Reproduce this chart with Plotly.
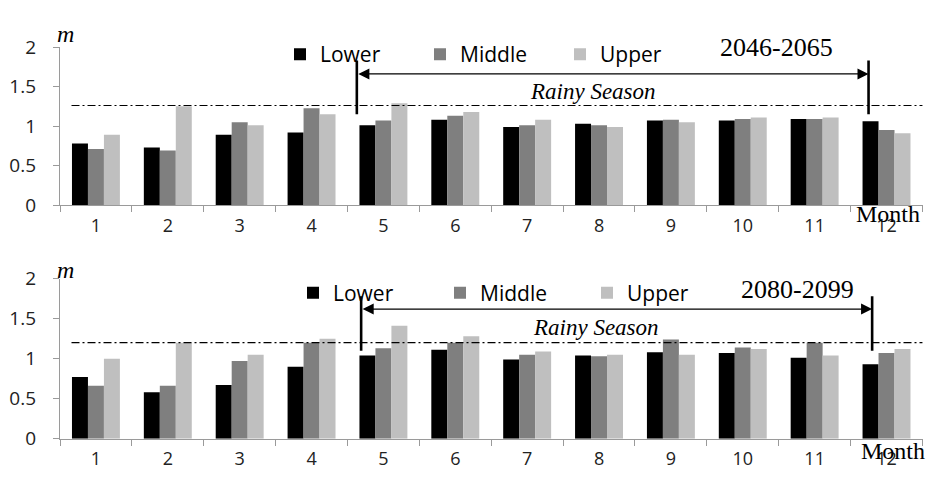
import plotly.graph_objects as go

months = [str(m) for m in range(1, 13)]
series_names = ["Lower", "Middle", "Upper"]
colors = ["#000000", "#7f7f7f", "#bfbfbf"]

# 2046-2065
lower_1 = [0.78, 0.73, 0.89, 0.92, 1.01, 1.08, 0.99, 1.03, 1.07, 1.07, 1.09, 1.06]
middle_1 = [0.71, 0.69, 1.05, 1.225, 1.07, 1.13, 1.01, 1.01, 1.08, 1.09, 1.09, 0.95]
upper_1 = [0.89, 1.25, 1.01, 1.15, 1.29, 1.18, 1.08, 0.99, 1.05, 1.11, 1.11, 0.91]

# 2080-2099
lower_2 = [0.77, 0.58, 0.67, 0.90, 1.04, 1.11, 0.99, 1.04, 1.08, 1.07, 1.01, 0.93]
middle_2 = [0.66, 0.66, 0.97, 1.20, 1.13, 1.20, 1.05, 1.03, 1.24, 1.14, 1.20, 1.07]
upper_2 = [1.00, 1.20, 1.05, 1.25, 1.41, 1.28, 1.09, 1.05, 1.05, 1.12, 1.04, 1.12]

period_labels = ["2046-2065", "2080-2099"]
threshold = [1.26, 1.20]
rainy_label = "Rainy Season"

W, H = 930, 486
def px_x(p):
    return p / W
def px_y(p):
    return 1 - p / H

fig = go.Figure()

panels = [
    dict(data=[lower_1, middle_1, upper_1], xa="x", ya="y", legend="legend"),
    dict(data=[lower_2, middle_2, upper_2], xa="x2", ya="y2", legend="legend2"),
]
for p in panels:
    for name, vals, col in zip(series_names, p["data"], colors):
        fig.add_trace(go.Bar(x=months, y=vals, name=name, marker=dict(color=col, line=dict(width=0)),
                             xaxis=p["xa"], yaxis=p["ya"], legend=p["legend"]))

axcolor = "#9a9a9a"
xdom = [px_x(60), px_x(923)]
xcommon = dict(domain=xdom, showline=True, linecolor=axcolor, linewidth=1.3, ticks="outside",
               tickson="boundaries", ticklen=6, tickcolor=axcolor, tickwidth=1.3,
               tickfont=dict(family="Open Sans", size=18, color="#222222"), ticklabelstandoff=4,
               showgrid=False, zeroline=False, type="category", fixedrange=True)
ycommon = dict(range=[0, 2], tickvals=[0, 0.5, 1, 1.5, 2], ticktext=["0", "0.5", "1", "1.5", "2"],
               showline=True, linecolor=axcolor, linewidth=1.3, ticks="outside", ticklen=6,
               tickcolor=axcolor, tickwidth=1.3, tickfont=dict(family="Open Sans", size=19, color="#222222"),
               ticklabelstandoff=13, showgrid=False, zeroline=False, fixedrange=True)

fig.update_layout(
    width=W, height=H, margin=dict(l=0, r=0, t=0, b=0),
    paper_bgcolor="white", plot_bgcolor="white",
    barmode="group", bargap=0.333, bargroupgap=0,
    xaxis=dict(**xcommon, anchor="y"),
    yaxis=dict(**ycommon, domain=[px_y(203), px_y(36)], anchor="x"),
    xaxis2=dict(**xcommon, anchor="y2"),
    yaxis2=dict(**ycommon, domain=[px_y(449.7), px_y(280.7)], anchor="x2"),
    legend=dict(orientation="h", x=px_x(280), y=px_y(44), xanchor="left", yanchor="middle",
                font=dict(family="Open Sans", size=21, color="#000000"), bgcolor="rgba(0,0,0,0)",
                entrywidth=95, entrywidthmode="pixels", itemwidth=30),
    legend2=dict(orientation="h", x=px_x(293), y=px_y(296), xanchor="left", yanchor="middle",
                 font=dict(family="Open Sans", size=21, color="#000000"), bgcolor="rgba(0,0,0,0)",
                 entrywidth=102, entrywidthmode="pixels", itemwidth=30),
    showlegend=True,
)

serif = "Liberation Serif"
deco = [
    dict(xa="x", ya="y", thr=threshold[0], xl=3.63, xr=10.75, ya_arrow=1.66, vy0=1.15, vy1=1.83,
         period=period_labels[0], per_xy=(776, 36), rainy_xy=(593, 83), m_xy=(65, 22), month_xy=(922, 212)),
    dict(xa="x2", ya="y2", thr=threshold[1], xl=3.69, xr=10.80, ya_arrow=1.62, vy0=1.10, vy1=1.78,
         period=period_labels[1], per_xy=(797, 292), rainy_xy=(596, 332), m_xy=(65, 271), month_xy=(927, 463)),
]
for d in deco:
    fig.add_shape(type="line", xref=d["xa"], yref=d["ya"], x0=-0.34, x1=11.5, y0=d["thr"], y1=d["thr"],
                  line=dict(color="black", width=1.1, dash="8px,3px,2px,3px"))
    for xv in (d["xl"], d["xr"]):
        fig.add_shape(type="line", xref=d["xa"], yref=d["ya"], x0=xv, x1=xv, y0=d["vy0"], y1=d["vy1"],
                      line=dict(color="black", width=2.6))
    fig.add_annotation(xref=d["xa"], yref=d["ya"], axref=d["xa"], ayref=d["ya"],
                       x=d["xr"], y=d["ya_arrow"], ax=d["xl"], ay=d["ya_arrow"], text="",
                       showarrow=True, arrowside="end+start", arrowhead=2, startarrowhead=2,
                       arrowsize=1.7, startarrowsize=1.7, arrowwidth=1.3, arrowcolor="black",
                       standoff=0, startstandoff=0)
    fig.add_annotation(xref="paper", yref="paper", x=px_x(d["per_xy"][0]), y=px_y(d["per_xy"][1]),
                       text=d["period"], showarrow=False, xanchor="center", yanchor="middle",
                       font=dict(family=serif, size=26, color="black"))
    fig.add_annotation(xref="paper", yref="paper", x=px_x(d["rainy_xy"][0]), y=px_y(d["rainy_xy"][1]),
                       text="<i>" + rainy_label + "</i>", showarrow=False, xanchor="center", yanchor="middle",
                       font=dict(family=serif, size=23, color="black"))
    fig.add_annotation(xref="paper", yref="paper", x=px_x(d["m_xy"][0]), y=px_y(d["m_xy"][1]),
                       text="<i>m</i>", showarrow=False, xanchor="center", yanchor="middle",
                       font=dict(family=serif, size=24, color="black"))
    fig.add_annotation(xref="paper", yref="paper", x=px_x(d["month_xy"][0]), y=px_y(d["month_xy"][1]),
                       text="Month", showarrow=False, xanchor="right", yanchor="middle",
                       font=dict(family=serif, size=24, color="black"))

fig.write_html("out.html", config={"displayModeBar": False},
               post_script="document.body.style.margin='0';document.body.style.overflow='hidden';")
